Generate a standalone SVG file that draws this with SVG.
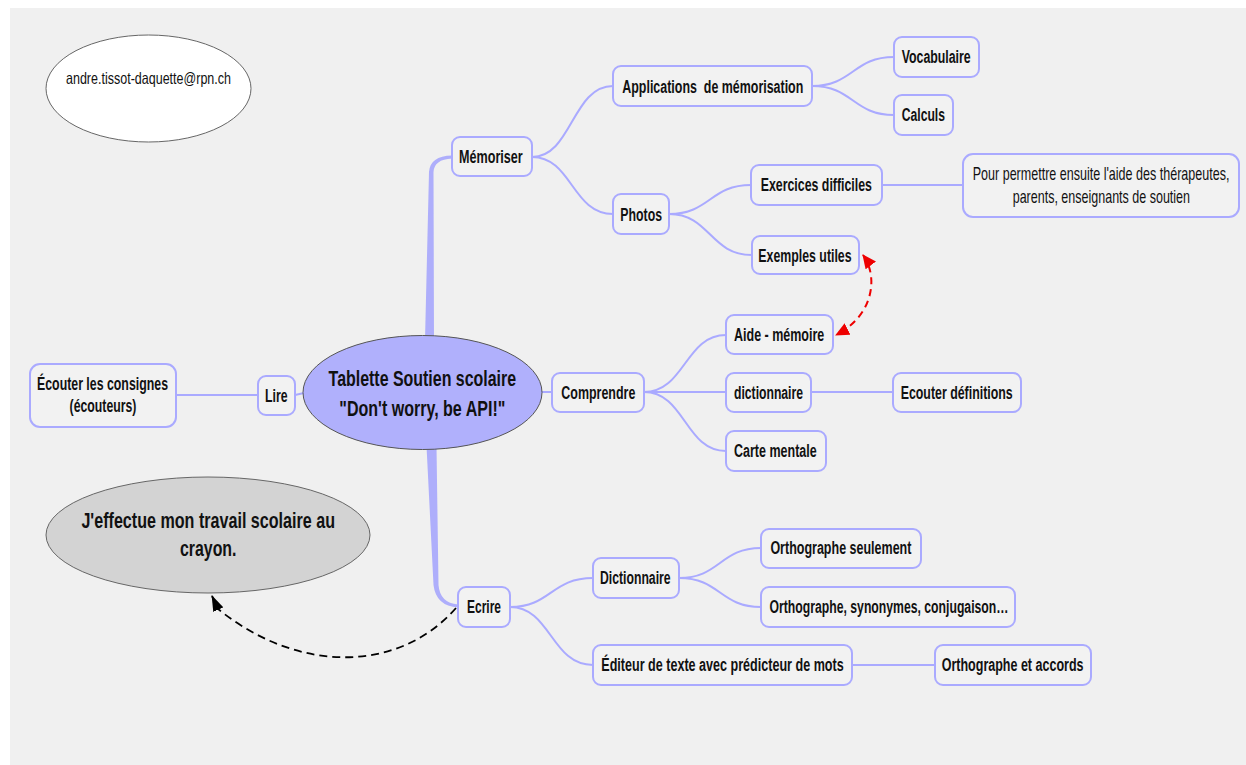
<svg xmlns="http://www.w3.org/2000/svg" width="1246" height="765" viewBox="0 0 1246 765">
<style>
.bg{fill:#f0f0f0}
.box{fill:#f2f2f2;stroke:#aaaaff;stroke-width:2}
.con{fill:none;stroke:#aaaaff;stroke-width:2}
.trunk{fill:#aeaefb}
.t{font-family:"Liberation Sans",Arial,Helvetica,sans-serif;font-weight:bold;font-size:18px;fill:#111}
.n{font-family:"Liberation Sans",Arial,Helvetica,sans-serif;font-weight:normal;font-size:17.5px;fill:#111}
.big{font-size:22.5px}
</style>
<defs>
<marker id="arrBlack" viewBox="0 0 16 11" refX="15" refY="5.5" markerWidth="16" markerHeight="11" markerUnits="userSpaceOnUse" orient="auto"><path d="M0,0 L16,5.5 L0,11 z" fill="#000"/></marker>
<marker id="arrRed" viewBox="0 0 14 13" refX="13" refY="6.5" markerWidth="14" markerHeight="13" markerUnits="userSpaceOnUse" orient="auto-start-reverse"><path d="M0,0 L14,6.5 L0,13 z" fill="#ee0000"/></marker>
</defs>
<rect x="0" y="0" width="1246" height="765" fill="#ffffff"/>
<rect class="bg" x="10" y="8" width="1236" height="757"/>

<g id="connectors">
<path class="trunk" d="M425,340 L429,172 Q430,156 452,155.5 L452,158.5 Q434,159.5 433.5,172 L434,340 Z"/>
<path class="trunk" d="M426.5,446 L433.5,585 Q436,606 458,607.5 L458,604.5 Q440,603 438.5,585 L436.5,446 Z"/>
<path class="con" d="M532,157 C572,157 572,86 613,86"/>
<path class="con" d="M532,157 C572,157 572,214 613,214"/>
<path class="con" d="M812,86 C853,86 853,57 894,57"/>
<path class="con" d="M812,86 C853,86 853,115 894,115"/>
<path class="con" d="M669,214 C710,214 710,185 751,185"/>
<path class="con" d="M669,214 C710,214 710,255 752,255"/>
<path class="con" d="M882,185 L963,185"/>
<path class="con" d="M644,392 C685,392 685,335 726,335"/>
<path class="con" d="M644,392 L726,392"/>
<path class="con" d="M644,392 C685,392 685,451 726,451"/>
<path class="con" d="M811,392 L893,392"/>
<path class="con" d="M510,607 C551,607 551,578 593,578"/>
<path class="con" d="M510,607 C551,607 551,665 593,665"/>
<path class="con" d="M679,578 C720,578 720,548 761,548"/>
<path class="con" d="M679,578 C720,578 720,607 761,607"/>
<path class="con" d="M852,665 L935,665"/>
<path class="con" d="M258,395 L176,395"/>
<path class="con" d="M295,395 L304,393"/>
<path class="con" d="M541,392 L552,392"/>
</g>

<g id="email">
<ellipse cx="148.5" cy="88.5" rx="102.5" ry="53.5" fill="#ffffff" stroke="#666" stroke-width="1"/>
<text class="n" x="66" y="84" style="font-size:16.5px" textLength="165" lengthAdjust="spacingAndGlyphs">andre.tissot-daquette@rpn.ch</text>
</g>

<g id="center">
<ellipse cx="422.5" cy="392.5" rx="119.5" ry="57" fill="#b0b0fc" stroke="#555" stroke-width="1"/>
<text class="t big" transform="translate(328.6,386) scale(0.72,1)" x="0" y="0" textLength="260.4" lengthAdjust="spacingAndGlyphs">Tablette Soutien scolaire</text>
<text class="t big" transform="translate(339.3,415.5) scale(0.72,1)" x="0" y="0" textLength="230.6" lengthAdjust="spacingAndGlyphs">"Don't worry, be API!"</text>
</g>

<g id="memoriser"><rect class="box" x="452" y="137" width="80" height="39" rx="8"/><text class="t" x="459" y="162.5" textLength="63.7" lengthAdjust="spacingAndGlyphs">Mémoriser</text></g>
<g id="applications"><rect class="box" x="613" y="66" width="199" height="40" rx="8"/><text class="t" xml:space="preserve" x="622.3" y="92.5" textLength="181" lengthAdjust="spacingAndGlyphs">Applications  de mémorisation</text></g>
<g id="photos"><rect class="box" x="613" y="194" width="56" height="40" rx="8"/><text class="t" x="620.3" y="220.5" textLength="41.7" lengthAdjust="spacingAndGlyphs">Photos</text></g>
<g id="vocabulaire"><rect class="box" x="894" y="37" width="85" height="40" rx="8"/><text class="t" x="901.7" y="63.3" textLength="69" lengthAdjust="spacingAndGlyphs">Vocabulaire</text></g>
<g id="calculs"><rect class="box" x="894" y="95" width="59" height="40" rx="8"/><text class="t" x="901.7" y="121.3" textLength="43.3" lengthAdjust="spacingAndGlyphs">Calculs</text></g>
<g id="exercices"><rect class="box" x="751" y="165" width="131" height="40" rx="8"/><text class="t" x="760.7" y="191" textLength="111.3" lengthAdjust="spacingAndGlyphs">Exercices difficiles</text></g>
<g id="exemples"><rect class="box" x="752" y="236" width="107" height="38" rx="8"/><text class="t" x="758.3" y="261.5" textLength="93.3" lengthAdjust="spacingAndGlyphs">Exemples utiles</text></g>
<g id="pourpermettre"><rect class="box" x="963" y="154" width="276" height="63" rx="10"/>
<text class="n" transform="translate(972.7,180) scale(0.76,1)" x="0" y="0" textLength="337.8" lengthAdjust="spacingAndGlyphs">Pour permettre ensuite l'aide des thérapeutes,</text>
<text class="n" transform="translate(1012.7,203.3) scale(0.76,1)" x="0" y="0" textLength="233.3" lengthAdjust="spacingAndGlyphs">parents, enseignants de soutien</text></g>
<g id="aide"><rect class="box" x="726" y="315" width="107" height="39" rx="8"/><text class="t" x="734" y="340.5" textLength="90.3" lengthAdjust="spacingAndGlyphs">Aide - mémoire</text></g>
<g id="comprendre"><rect class="box" x="552" y="373" width="92" height="39" rx="8"/><text class="t" x="561.3" y="399" textLength="74" lengthAdjust="spacingAndGlyphs">Comprendre</text></g>
<g id="dictionnaire1"><rect class="box" x="726" y="373" width="85" height="39" rx="8"/><text class="t" x="734" y="399" textLength="69" lengthAdjust="spacingAndGlyphs">dictionnaire</text></g>
<g id="ecouterdef"><rect class="box" x="893" y="373" width="128" height="39" rx="8"/><text class="t" x="900.7" y="399" textLength="112" lengthAdjust="spacingAndGlyphs">Ecouter définitions</text></g>
<g id="carte"><rect class="box" x="726" y="431" width="100" height="40" rx="8"/><text class="t" x="734" y="457" textLength="82.7" lengthAdjust="spacingAndGlyphs">Carte mentale</text></g>
<g id="lire"><rect class="box" x="258" y="376" width="37" height="39" rx="8"/><text class="t" x="265" y="401.5" textLength="22.5" lengthAdjust="spacingAndGlyphs">Lire</text></g>
<g id="ecouterconsignes"><rect class="box" x="30" y="364" width="146" height="63" rx="10"/>
<text class="t" x="37" y="390" textLength="131" lengthAdjust="spacingAndGlyphs">Écouter les consignes</text>
<text class="t" x="69.6" y="412" textLength="66.8" lengthAdjust="spacingAndGlyphs">(écouteurs)</text></g>
<g id="crayon">
<ellipse cx="208" cy="535" rx="162" ry="58" fill="#d3d3d3" stroke="#666" stroke-width="1"/>
<text class="t" transform="translate(81.4,528) scale(0.65,1)" x="0" y="0" style="font-size:22px" textLength="390.2" lengthAdjust="spacingAndGlyphs">J'effectue mon travail scolaire au</text>
<text class="t" transform="translate(180,556) scale(0.65,1)" x="0" y="0" style="font-size:22px" textLength="86.8" lengthAdjust="spacingAndGlyphs">crayon.</text>
</g>
<g id="ecrire"><rect class="box" x="458" y="587" width="52" height="40" rx="8"/><text class="t" x="467" y="613" textLength="34" lengthAdjust="spacingAndGlyphs">Ecrire</text></g>
<g id="dictionnaire2"><rect class="box" x="593" y="558" width="86" height="40" rx="8"/><text class="t" x="600" y="583.5" textLength="70.6" lengthAdjust="spacingAndGlyphs">Dictionnaire</text></g>
<g id="orthseul"><rect class="box" x="761" y="529" width="160" height="39" rx="8"/><text class="t" x="770.4" y="554.3" textLength="141" lengthAdjust="spacingAndGlyphs">Orthographe seulement</text></g>
<g id="orthsyn"><rect class="box" x="761" y="587" width="254" height="40" rx="8"/><text class="t" x="769.5" y="612.7" textLength="239" lengthAdjust="spacingAndGlyphs">Orthographe, synonymes, conjugaison…</text></g>
<g id="editeur"><rect class="box" x="593" y="645" width="259" height="40" rx="8"/><text class="t" x="601.3" y="671" textLength="242.4" lengthAdjust="spacingAndGlyphs">Éditeur de texte avec prédicteur de mots</text></g>
<g id="orthaccords"><rect class="box" x="935" y="645" width="156" height="40" rx="8"/><text class="t" x="941.7" y="671" textLength="141.8" lengthAdjust="spacingAndGlyphs">Orthographe et accords</text></g>

<g id="relations">
<path d="M456,608 C400,672 300,675 218,609 L212,596" fill="none" stroke="#000" stroke-width="1.8" stroke-dasharray="8,5" marker-end="url(#arrBlack)"/>
<path d="M863,255 C878,275 875,315 836,335" fill="none" stroke="#ee0000" stroke-width="2" stroke-dasharray="7,5" marker-start="url(#arrRed)" marker-end="url(#arrRed)"/>
</g>
</svg>
